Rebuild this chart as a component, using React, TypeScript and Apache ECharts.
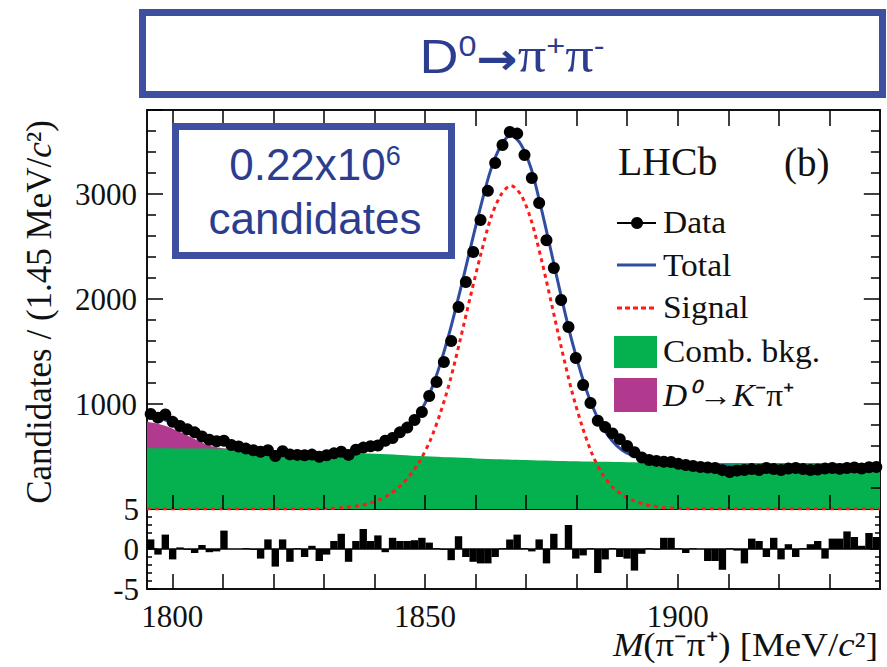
import React, { useEffect, useRef } from 'react';
import * as echarts from 'echarts';

// ---- axis ranges / binning ----
const massMin = 1795;
const massMax = 1940;
const binWidth = 1.45;
const yMax = 3800;

// tick marks / labels
const xTickValues = [1800, 1810, 1820, 1830, 1840, 1850, 1860, 1870, 1880, 1890, 1900, 1910, 1920, 1930];
const xLabelValues = [1800, 1850, 1900];
const mainYTickValues = [200, 400, 600, 800, 1000, 1200, 1400, 1600, 1800, 2000, 2200, 2400, 2600, 2800, 3000, 3200, 3400, 3600];
const pullYTickValues = [-4, -3, -2, -1, 0, 1, 2, 3, 4];

// ---- data (candidates per 1.45 MeV bin, 100 bins) ----
const dataCounts = [
  905, 870, 900, 830, 790, 760, 730, 690, 660, 645,
  650, 610, 595, 575, 560, 545, 560, 505, 550, 520,
  515, 512, 518, 498, 512, 530, 545, 515, 565, 585,
  598, 605, 650, 676, 730, 775, 848, 924, 1076, 1210,
  1400, 1600, 1924, 2162, 2448, 2752, 3030, 3295, 3467, 3590,
  3575, 3371, 3152, 2914, 2560, 2295, 1990, 1733, 1438, 1181,
  1010, 840, 780, 720, 665, 600, 540, 490, 467, 458,
  450, 448, 430, 419, 410, 400, 395, 390, 370, 352,
  365, 371, 380, 372, 390, 380, 371, 385, 390, 380,
  371, 375, 385, 390, 382, 390, 395, 385, 398, 400,
];

// ---- pulls per bin ----
const pulls = [
  1.2, -0.7, 1.8, -1.3, 0.2, -0.1, -0.5, 0.5, -0.4, -0.3,
  2.3, 0, 0, 0.1, -0.1, -1.2, 1.2, -2.2, 1.2, -1.6,
  0.1, -1.0, 0.4, -1.5, -0.7, 1.0, 1.9, -1.6, 1.0, 2.5,
  1.0, 1.7, -0.4, 1.4, 1.0, 1.0, 1.1, 1.4, 0.8, 0.1,
  -0.1, -1.4, 1.6, -1.0, -1.6, -1.8, -1.8, -1.0, 0.1, 1.2,
  1.8, 0.1, -0.3, 1.2, -1.8, 1.9, 0.1, 3.0, -1.2, -0.8,
  0.1, -3.0, -1.3, 0.1, -1.0, -1.2, -2.7, -0.6, 0.1, -0.1,
  1.4, 1.4, 0.1, -0.5, 0.1, 0, -1.5, -1.5, -2.6, 0.1,
  -0.2, -1.8, 1.3, 1.0, -1.0, 1.4, -1.3, 0.6, -1.0, 0.1,
  0.6, 1.0, -1.2, 1.3, 1.3, 2.2, 1.5, 0.4, 2.0, 1.5,
];

// ---- combinatorial background (green) ----
const bkgMass = [1795, 1800, 1805, 1810, 1815, 1820, 1825, 1830, 1835, 1840, 1845, 1850, 1855, 1860, 1865, 1870, 1875, 1880, 1885, 1890, 1895, 1900, 1910, 1920, 1930, 1940];
const combBkg = [578, 577, 576, 574, 569, 562, 554, 545, 536, 526, 515, 503, 492, 482, 474, 467, 460, 455, 450, 446, 443, 441, 439, 437, 436, 435];

// ---- D0 -> K- pi+ misID (purple), top edge of stacked area ----
const kpiMass = [1795, 1797, 1799, 1801, 1803, 1805, 1807, 1809, 1811, 1813];
const kpiTop = [830, 812, 785, 745, 700, 652, 610, 585, 574, 560];

// ---- signal (red dashed) ----
const signalMass = [1795, 1827, 1831, 1834, 1837, 1839, 1841, 1843, 1845, 1847, 1849, 1851, 1853, 1855, 1857, 1859, 1861, 1863, 1865, 1867,
  1869, 1871, 1873, 1875, 1877, 1879, 1881, 1883, 1885, 1887, 1889, 1891, 1893, 1895, 1897, 1900, 1903, 1940];
const signalVals = [0, 0, 5, 14, 32, 55, 90, 140, 215, 320, 460, 650, 910, 1230, 1620, 2030, 2420, 2770, 2990, 3080,
  2990, 2750, 2380, 1960, 1530, 1130, 800, 530, 340, 215, 135, 85, 50, 28, 14, 5, 0, 0];

// ---- total fit (blue) ----
const totalMass = [1795, 1798, 1801, 1804, 1807, 1810, 1813, 1816, 1819, 1822, 1825, 1828, 1831, 1834, 1837, 1840, 1843, 1845, 1847, 1849,
  1851, 1853, 1855, 1857, 1859, 1861, 1863, 1865, 1867, 1869, 1871, 1873, 1875, 1877, 1879, 1881, 1883, 1885, 1887, 1889,
  1891, 1893, 1896, 1900, 1905, 1910, 1920, 1930, 1940];
const totalVals = [900, 860, 790, 730, 680, 640, 600, 570, 550, 530, 515, 510, 515, 530, 555, 600, 660, 720, 800, 920,
  1110, 1380, 1710, 2090, 2490, 2880, 3230, 3460, 3560, 3470, 3240, 2860, 2440, 2010, 1610, 1270, 990, 790, 650, 560,
  510, 480, 455, 435, 420, 410, 400, 395, 395];

const GREEN = '#05b04f';
const PURPLE = '#b1398e';
const BLUE_LINE = '#2f4ea1';
const BOX_BLUE = '#3d4f9e';
const TEXT_BLUE = '#2c3d90';
const SERIF = 'Liberation Serif';
const SANS = 'Liberation Sans';
const INK = '#111';

const binCenters = dataCounts.map((_, i) => massMin + binWidth * (i + 0.5));

// tick lengths expressed in axis units (main: ~0.105 px per count, ~5.05 px per MeV; pull: 8 px per unit)
const TICK_MAIN_X_BOTTOM = 133; // counts
const TICK_MAIN_X_TOP = 152; // counts
const TICK_Y_MAJOR_MEV = 3.2;
const TICK_Y_MINOR_MEV = 1.8;
const TICK_PULL_MAJOR_MEV = 2.0;
const TICK_PULL_MINOR_MEV = 1.0;

function frameTickLines(): { main: any[]; pull: any[] } {
  const main: any[] = [];
  xTickValues.forEach((v) => {
    main.push([{ coord: [v, 0] }, { coord: [v, TICK_MAIN_X_BOTTOM] }]);
    main.push([{ coord: [v, yMax] }, { coord: [v, yMax - TICK_MAIN_X_TOP] }]);
  });
  mainYTickValues.forEach((v) => {
    const len = v % 1000 === 0 ? TICK_Y_MAJOR_MEV : TICK_Y_MINOR_MEV;
    main.push([{ coord: [massMax, v] }, { coord: [massMax - len, v] }]);
  });
  const pull: any[] = [];
  pullYTickValues.forEach((v) => {
    const len = v % 5 === 0 ? TICK_PULL_MAJOR_MEV : TICK_PULL_MINOR_MEV;
    pull.push([{ coord: [massMax, v] }, { coord: [massMax - len, v] }]);
  });
  return { main, pull };
}

function tickMarkLine(data: any[]): any {
  return {
    silent: true, animation: false, symbol: ['none', 'none'], z: 8,
    label: { show: false }, emphasis: { disabled: true },
    lineStyle: { color: '#000', width: 1.5, type: 'solid', opacity: 1 },
    data,
  };
}

function baseGraphics(): any[] {
  const serifLegend = (text: string, x: number, y: number, rich?: any) => ({
    type: 'text', x, y, scaleX: 1.08, z: 100,
    style: { text, fontFamily: SERIF, fontSize: 31, fill: INK, align: 'left', verticalAlign: 'middle', rich },
  });
  return [
    // title box
    { type: 'rect', z: 100, shape: { x: 142.5, y: 12.5, width: 740, height: 82 },
      style: { fill: '#fff', stroke: BOX_BLUE, lineWidth: 7 } },
    { type: 'text', z: 101, x: 512, y: 56, scaleX: 1.2, scaleY: 1.06,
      style: { text: '{s|D}{z|0}{a|→}{p|π}{z|+}{p|π}{z|-}', align: 'center', verticalAlign: 'middle', fill: TEXT_BLUE,
        rich: {
          s: { fontFamily: SANS, fontSize: 45, fill: TEXT_BLUE, verticalAlign: 'bottom' },
          z: { fontFamily: SANS, fontSize: 27, fill: TEXT_BLUE, verticalAlign: 'top' },
          a: { fontFamily: 'DejaVu Sans', fontSize: 41, fontWeight: 'bold', fill: TEXT_BLUE, verticalAlign: 'bottom' },
          p: { fontFamily: SERIF, fontSize: 47, fill: TEXT_BLUE, verticalAlign: 'bottom' },
        } } },
    // inset box
    { type: 'rect', z: 100, shape: { x: 175.5, y: 126.5, width: 276, height: 129 },
      style: { fill: '#fff', stroke: BOX_BLUE, lineWidth: 7 } },
    { type: 'text', z: 101, x: 315, y: 164,
      style: { text: '{n|0.22x10}{z|6}', align: 'center', verticalAlign: 'middle', fill: TEXT_BLUE,
        rich: {
          n: { fontFamily: SANS, fontSize: 44, fill: TEXT_BLUE, verticalAlign: 'bottom' },
          z: { fontFamily: SANS, fontSize: 27, fill: TEXT_BLUE, verticalAlign: 'top' },
        } } },
    { type: 'text', z: 101, x: 315, y: 218,
      style: { text: 'candidates', fontFamily: SANS, fontSize: 44, fill: TEXT_BLUE, align: 'center', verticalAlign: 'middle' } },
    // LHCb (b)
    { type: 'text', z: 100, x: 618, y: 162, scaleX: 1.02,
      style: { text: 'LHCb', fontFamily: SERIF, fontSize: 39, fill: INK, align: 'left', verticalAlign: 'middle' } },
    { type: 'text', z: 100, x: 784, y: 162,
      style: { text: '(b)', fontFamily: SERIF, fontSize: 39, fill: INK, align: 'left', verticalAlign: 'middle' } },
    // legend
    { type: 'line', z: 100, shape: { x1: 617, y1: 223, x2: 656, y2: 223 }, style: { stroke: '#000', lineWidth: 2 } },
    { type: 'circle', z: 101, shape: { cx: 637, cy: 223, r: 6 }, style: { fill: '#000' } },
    serifLegend('Data', 663, 222),
    { type: 'line', z: 100, shape: { x1: 617, y1: 265, x2: 656, y2: 265 }, style: { stroke: BLUE_LINE, lineWidth: 3 } },
    serifLegend('Total', 663, 265),
    { type: 'line', z: 100, shape: { x1: 617, y1: 308, x2: 656, y2: 308 }, style: { stroke: '#ff1a1a', lineWidth: 3, lineDash: [5, 3] } },
    serifLegend('Signal', 663, 307),
    { type: 'rect', z: 100, shape: { x: 614, y: 336, width: 43, height: 32 }, style: { fill: GREEN } },
    serifLegend('Comb. bkg.', 663, 351),
    { type: 'rect', z: 100, shape: { x: 614, y: 378, width: 43, height: 34 }, style: { fill: PURPLE } },
    serifLegend('{i|D⁰}→{i|K}⁻π⁺', 663, 395, { i: { fontFamily: SERIF, fontSize: 31, fontStyle: 'italic', fill: INK } }),
    // axis titles
    { type: 'text', z: 100, x: 39, y: 312, rotation: Math.PI / 2,
      style: { text: 'Candidates / (1.45 MeV/{i|c}²)', fontFamily: SERIF, fontSize: 35, fill: INK,
        align: 'center', verticalAlign: 'middle',
        rich: { i: { fontFamily: SERIF, fontSize: 35, fontStyle: 'italic', fill: INK } } } },
    { type: 'text', z: 100, x: 878, y: 645, scaleX: 1.12,
      style: { text: '{i|M}(π⁻π⁺) [MeV/{i|c}²]', fontFamily: SERIF, fontSize: 33, fill: INK,
        align: 'right', verticalAlign: 'middle',
        rich: { i: { fontFamily: SERIF, fontSize: 33, fontStyle: 'italic', fill: INK } } } },
  ];
}

function buildOption(): any {
  const gridL = 147, gridW = 733;
  const tickStyle = () => ({ color: '#000', width: 1.5 });
  const axisLineStyle = () => ({ show: true, onZero: false, lineStyle: { color: INK, width: 2 } });
  const plain = (v: number) => String(v);
  const ticks = frameTickLines();
  const xAxisOf = (gridIndex: number, position: string, withLabels: boolean) => ({
    type: 'value', min: massMin, max: massMax, gridIndex, position,
    splitLine: { show: false }, axisLine: axisLineStyle(),
    axisLabel: withLabels
      ? { show: true, customValues: xLabelValues, fontFamily: SERIF, fontSize: 31, color: INK, margin: 12, formatter: plain }
      : { show: false },
    axisTick: withLabels
      ? { show: true, inside: true, length: 15, lineStyle: tickStyle(), customValues: xTickValues }
      : { show: false },
  });
  const yAxisOf = (gridIndex: number, position: string, min: number, max: number, interval: number,
    majorLen: number, minorLen: number, label: any) => ({
    type: 'value', gridIndex, position, min, max, interval,
    splitLine: { show: false }, axisLine: axisLineStyle(),
    axisTick: label.show ? { show: true, inside: true, length: majorLen, lineStyle: tickStyle() } : { show: false },
    minorTick: label.show ? { show: true, splitNumber: 5, length: minorLen, lineStyle: tickStyle() } : { show: false },
    axisLabel: label,
  });
  return {
    animation: false,
    backgroundColor: '#fff',
    grid: [
      { left: gridL, top: 110, width: gridW, height: 399 },
      { left: gridL, top: 509, width: gridW, height: 80 },
    ],
    xAxis: [
      xAxisOf(0, 'bottom', false),
      xAxisOf(0, 'top', false),
      xAxisOf(1, 'bottom', true),
    ],
    yAxis: [
      yAxisOf(0, 'left', 0, yMax, 1000, 16, 9, {
        show: true, fontFamily: SERIF, fontSize: 31, color: INK, margin: 10, showMaxLabel: false,
        formatter: (v: number) => (v === 0 || v > 3500 ? '' : String(v)) }),
      yAxisOf(0, 'right', 0, yMax, 1000, 16, 9, { show: false }),
      yAxisOf(1, 'left', -5, 5, 5, 10, 5, {
        show: true, fontFamily: SERIF, fontSize: 31, color: INK, margin: 8, formatter: plain }),
      yAxisOf(1, 'right', -5, 5, 5, 10, 5, { show: false }),
    ],
    series: [
      { name: 'kpi', type: 'line', xAxisIndex: 0, yAxisIndex: 0, z: 1, symbol: 'none', smooth: 0.3,
        data: kpiMass.map((m, i) => [m, kpiTop[i]]),
        lineStyle: { width: 0 }, areaStyle: { color: PURPLE, opacity: 1 } },
      { name: 'comb', type: 'line', xAxisIndex: 0, yAxisIndex: 0, z: 2, symbol: 'none', smooth: 0.3,
        data: bkgMass.map((m, i) => [m, combBkg[i]]),
        lineStyle: { width: 0 }, areaStyle: { color: GREEN, opacity: 1 } },
      { name: 'signal', type: 'line', xAxisIndex: 0, yAxisIndex: 0, z: 3, symbol: 'none', smooth: 0.3,
        data: signalMass.map((m, i) => [m, signalVals[i]]),
        lineStyle: { color: '#ff1a1a', width: 3, type: [4, 4] } },
      { name: 'total', type: 'line', xAxisIndex: 0, yAxisIndex: 0, z: 4, symbol: 'none', smooth: 0.3,
        data: totalMass.map((m, i) => [m, totalVals[i]]),
        lineStyle: { color: BLUE_LINE, width: 3 },
        markLine: tickMarkLine(ticks.main) },
      { name: 'data', type: 'scatter', xAxisIndex: 0, yAxisIndex: 0, z: 5, clip: false,
        symbolSize: 12, itemStyle: { color: '#000', opacity: 1 },
        data: binCenters.map((m, i) => [m, dataCounts[i]]) },
      { name: 'pull', type: 'bar', xAxisIndex: 2, yAxisIndex: 2, z: 3, barWidth: 7.4,
        itemStyle: { color: '#000' },
        data: binCenters.map((m, i) => [m, pulls[i]]) },
      { name: 'zero', type: 'line', xAxisIndex: 2, yAxisIndex: 2, z: 4, symbol: 'none',
        data: [[massMin, 0], [massMax, 0]], lineStyle: { color: '#000', width: 1.5 },
        markLine: tickMarkLine(ticks.pull) },
    ],
    graphic: baseGraphics(),
  };
}

export default function App() {
  const ref = useRef<HTMLDivElement>(null);
  useEffect(() => {
    if (!ref.current) return;
    const chart = echarts.init(ref.current, null, { renderer: 'svg' });
    chart.setOption(buildOption());
    return () => chart.dispose();
  }, []);
  return (
    <div
      ref={ref}
      style={{ position: 'fixed', left: 0, top: 0, width: 887, height: 667, background: '#fff' }}
    />
  );
}
